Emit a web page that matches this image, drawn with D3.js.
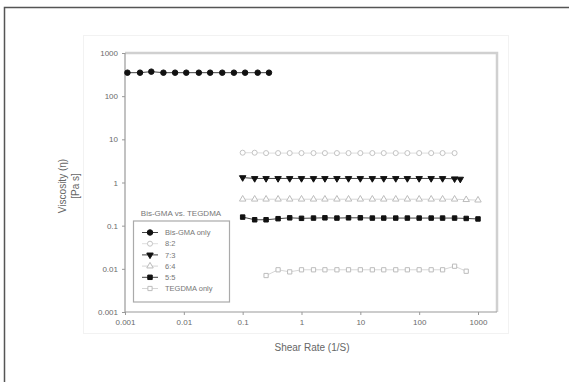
<!DOCTYPE html>
<html>
<head>
<meta charset="utf-8">
<script src="https://cdn.jsdelivr.net/npm/d3@7"></script>
<style>
  html, body { margin: 0; padding: 0; background: #fff; }
  svg { display: block; font-family: "Liberation Sans", Arial, sans-serif; }
</style>
</head>
<body>
<svg id="chart" width="569" height="382"></svg>
<script>
// Steady-shear viscosity of Bis-GMA / TEGDMA resin blends
const seriesNames = ["Bis-GMA only", "8:2", "7:3", "6:4", "5:5", "TEGDMA only"];

const rateBis = [0.0011, 0.0018, 0.0028, 0.0045, 0.0071, 0.011, 0.018, 0.028, 0.045, 0.071, 0.11, 0.18, 0.28];
const viscBis = [350, 350, 370, 350, 350, 350, 350, 350, 350, 350, 350, 350, 350];

const rate82 = [0.1, 0.16, 0.25, 0.4, 0.63, 1, 1.6, 2.5, 4, 6.3, 10, 16, 25, 40, 63, 100, 160, 250, 400];
const visc82 = [4.9, 4.9, 4.8, 4.8, 4.8, 4.8, 4.8, 4.8, 4.8, 4.8, 4.8, 4.8, 4.8, 4.8, 4.8, 4.8, 4.8, 4.8, 4.8];

const rate73 = [0.1, 0.16, 0.25, 0.4, 0.63, 1, 1.6, 2.5, 4, 6.3, 10, 16, 25, 40, 63, 100, 160, 250, 400, 500];
const visc73 = [1.3, 1.24, 1.24, 1.24, 1.24, 1.24, 1.24, 1.24, 1.24, 1.24, 1.24, 1.24, 1.24, 1.24, 1.24, 1.24, 1.24, 1.24, 1.22, 1.2];

const rate64 = [0.1, 0.16, 0.25, 0.4, 0.63, 1, 1.6, 2.5, 4, 6.3, 10, 16, 25, 40, 63, 100, 160, 250, 400, 630, 1000];
const visc64 = [0.41, 0.41, 0.41, 0.41, 0.41, 0.41, 0.41, 0.41, 0.41, 0.41, 0.41, 0.41, 0.41, 0.41, 0.41, 0.41, 0.41, 0.41, 0.41, 0.40, 0.39];

const rate55 = [0.1, 0.16, 0.25, 0.4, 0.63, 1, 1.6, 2.5, 4, 6.3, 10, 16, 25, 40, 63, 100, 160, 250, 400, 630, 1000];
const visc55 = [0.158, 0.137, 0.137, 0.145, 0.152, 0.148, 0.15, 0.152, 0.15, 0.152, 0.152, 0.15, 0.15, 0.15, 0.15, 0.15, 0.15, 0.15, 0.15, 0.147, 0.143];

const rateTeg = [0.25, 0.4, 0.63, 1, 1.6, 2.5, 4, 6.3, 10, 16, 25, 40, 63, 100, 160, 250, 400, 630];
const viscTeg = [0.007, 0.0095, 0.0085, 0.0095, 0.0095, 0.0095, 0.0095, 0.0095, 0.0095, 0.0095, 0.0095, 0.0095, 0.0095, 0.0095, 0.0095, 0.0095, 0.0115, 0.0088];

const tickValues = [0.001, 0.01, 0.1, 1, 10, 100, 1000];
const tickLabels = ["0.001", "0.01", "0.1", "1", "10", "100", "1000"];

const series = [
  { name: seriesNames[0], x: rateBis, y: viscBis, sym: d3.symbolCircle, size: 24, fill: "#111", stroke: "#111", line: "#111" },
  { name: seriesNames[1], x: rate82, y: visc82, sym: d3.symbolCircle, size: 20, fill: "#fff", stroke: "#c4c4c4", line: "#d4d4d4" },
  { name: seriesNames[2], x: rate73, y: visc73, sym: d3.symbolTriangle, size: 18, fill: "#111", stroke: "#111", line: "#111", rot: 180 },
  { name: seriesNames[3], x: rate64, y: visc64, sym: d3.symbolTriangle, size: 18, fill: "#fff", stroke: "#bcbcbc", line: "#cccccc" },
  { name: seriesNames[4], x: rate55, y: visc55, sym: d3.symbolSquare, size: 20, fill: "#111", stroke: "#111", line: "#111" },
  { name: seriesNames[5], x: rateTeg, y: viscTeg, sym: d3.symbolSquare, size: 18, fill: "#fff", stroke: "#bcbcbc", line: "#cccccc" }
];

const svg = d3.select("#chart");

// page frame
svg.append("path")
  .attr("d", "M4.5,382 L4.5,7.5 L569,7.5")
  .attr("fill", "none").attr("stroke", "#555").attr("stroke-width", 1.5);

// faint outline of the figure panel
svg.append("rect")
  .attr("x", 83.5).attr("y", 35.5).attr("width", 425).attr("height", 298)
  .attr("fill", "none").attr("stroke", "#f2f2f2").attr("stroke-width", 1);

const x = d3.scaleLog().domain([0.001, 1000]).range([125, 478]);
const y = d3.scaleLog().domain([0.001, 1000]).range([312, 53]);
const plotRight = 497;

// plot frame (top and right edges)
svg.append("path")
  .attr("d", `M125,${y(1000)} L${plotRight},${y(1000)} L${plotRight},${y(0.001)}`)
  .attr("fill", "none").attr("stroke", "#d0d0d0").attr("stroke-width", 2.5);

// axes
const xAxis = d3.axisBottom(x).tickValues(tickValues)
  .tickFormat((d, i) => tickLabels[i]).tickSize(3).tickPadding(4);
const yAxis = d3.axisLeft(y).tickValues(tickValues)
  .tickFormat((d, i) => tickLabels[i]).tickSize(3).tickPadding(4);

const gx = svg.append("g").attr("transform", `translate(0,${y(0.001)})`).call(xAxis);
gx.select(".domain").attr("d", `M125,0 H${plotRight}`);
const gy = svg.append("g").attr("transform", "translate(125,0)").call(yAxis);
gy.select(".domain").attr("d", `M0,${y(0.001)} V${y(1000)}`);

[gx, gy].forEach(g => {
  g.select(".domain").attr("stroke", "#999").attr("stroke-width", 1.2);
  g.selectAll(".tick line").attr("stroke", "#999");
  g.selectAll(".tick text").attr("fill", "#6a6a6a").attr("font-size", 8)
    .attr("font-family", "Liberation Sans, Arial, sans-serif");
});

// axis titles
svg.append("text")
  .attr("x", 312).attr("y", 351)
  .attr("text-anchor", "middle").attr("font-size", 10).attr("fill", "#666")
  .text("Shear Rate (1/S)");

const yt = svg.append("text")
  .attr("transform", "translate(66,186) rotate(-90)")
  .attr("text-anchor", "middle").attr("font-size", 10).attr("fill", "#666");
yt.append("tspan").attr("x", 0).attr("dy", 0).text("Viscosity (\u03b7)");
yt.append("tspan").attr("x", 0).attr("dy", 13).text("[Pa s]");

// data
const symPath = s => d3.symbol().type(s.sym).size(s.size)();
const line = d3.line().x(d => x(d[0])).y(d => y(d[1]));

series.forEach(s => {
  const pts = s.x.map((v, i) => [v, s.y[i]]);
  const g = svg.append("g");
  g.append("path").datum(pts).attr("d", line)
    .attr("fill", "none").attr("stroke", s.line).attr("stroke-width", 0.8);
  g.selectAll("path.pt").data(pts).join("path").attr("class", "pt")
    .attr("d", symPath(s))
    .attr("transform", d => `translate(${x(d[0])},${y(d[1])})${s.rot ? " rotate(" + s.rot + ")" : ""}`)
    .attr("fill", s.fill).attr("stroke", s.stroke).attr("stroke-width", 1);
});

// legend
svg.append("text")
  .attr("x", 181).attr("y", 216)
  .attr("text-anchor", "middle").attr("font-size", 8).attr("fill", "#777")
  .text("Bis-GMA vs. TEGDMA");

svg.append("rect")
  .attr("x", 133.5).attr("y", 221).attr("width", 96).attr("height", 81)
  .attr("fill", "#fff").attr("stroke", "#aaa").attr("stroke-width", 1.2);

const lg = svg.append("g").selectAll("g").data(series).join("g")
  .attr("transform", (d, i) => `translate(150,${232.5 + i * 11.2})`);
lg.append("line").attr("x1", -8).attr("x2", 8)
  .attr("stroke", d => d.line).attr("stroke-width", 0.8);
lg.append("path").attr("d", d => symPath(d))
  .attr("transform", d => d.rot ? `rotate(${d.rot})` : null)
  .attr("fill", d => d.fill).attr("stroke", d => d.stroke).attr("stroke-width", 1);
lg.append("text").attr("x", 15).attr("dy", "0.35em")
  .attr("font-size", 7.5).attr("fill", "#777")
  .text(d => d.name);
</script>
</body>
</html>
